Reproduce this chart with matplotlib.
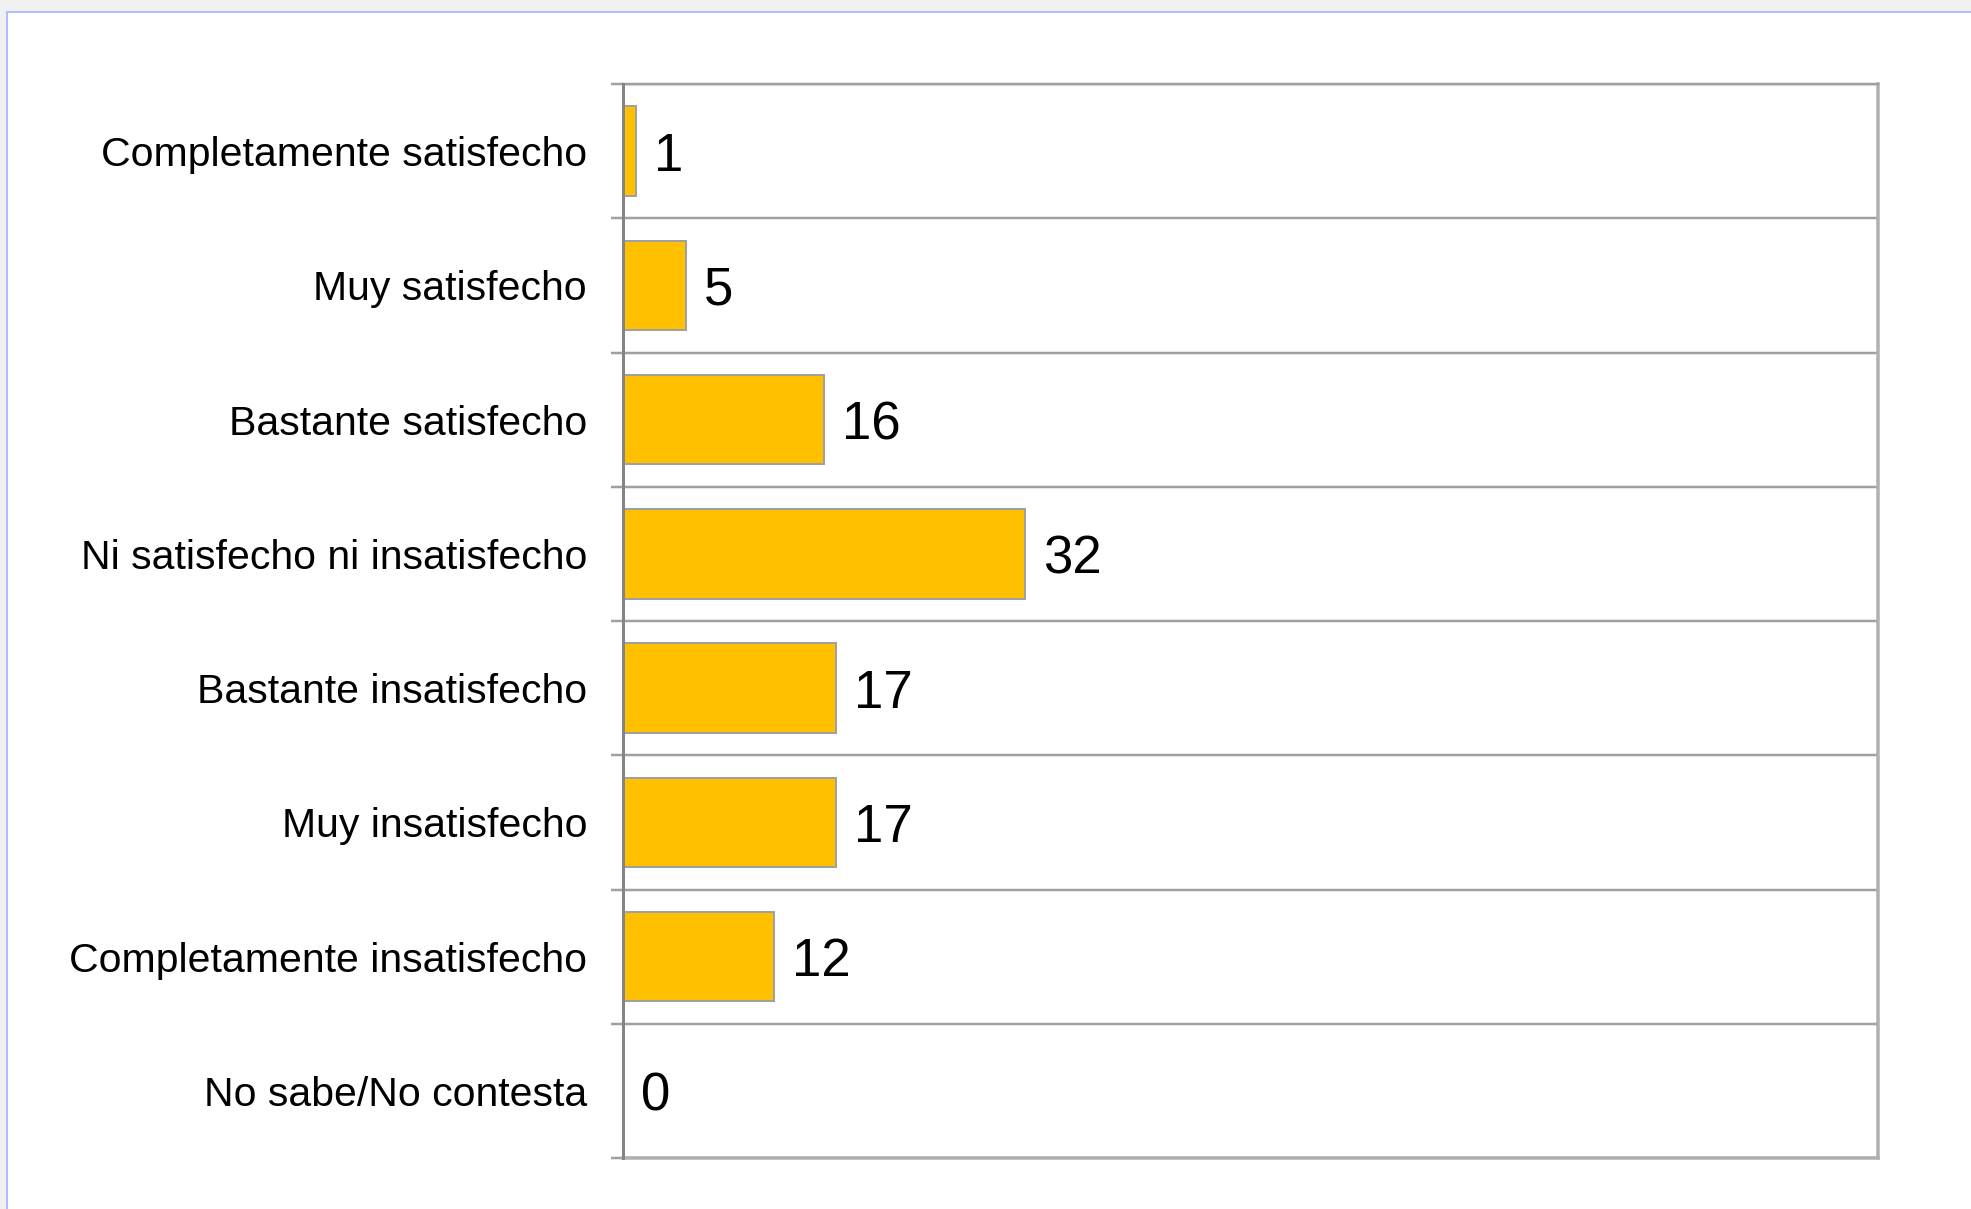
import matplotlib
matplotlib.use("Agg")
import matplotlib.pyplot as plt
from matplotlib.patches import Rectangle
from matplotlib.lines import Line2D

categories = ["Completamente satisfecho", "Muy satisfecho", "Bastante satisfecho",
              "Ni satisfecho ni insatisfecho", "Bastante insatisfecho",
              "Muy insatisfecho", "Completamente insatisfecho", "No sabe/No contesta"]
values = [1, 5, 16, 32, 17, 17, 12, 0]

W, H = 1971, 1209
DPI = 100
PX = 72.0 / DPI  # points per pixel

plt.rcParams['font.family'] = ['Liberation Sans', 'DejaVu Sans']

fig = plt.figure(figsize=(W / DPI, H / DPI), dpi=DPI, facecolor='white')

# window chrome: gray strips with light blue border
fig.add_artist(Rectangle((0, 1 - 11 / H), 1, 11 / H, transform=fig.transFigure,
                         facecolor='#f0f0f0', edgecolor='none', zorder=0))
fig.add_artist(Rectangle((0, 0), 7 / W, 1, transform=fig.transFigure,
                         facecolor='#f0f0f0', edgecolor='none', zorder=0))
fig.add_artist(Line2D([7 / W, 1], [1 - 12 / H, 1 - 12 / H], transform=fig.transFigure,
                      color='#aabfff', lw=2 * PX))
fig.add_artist(Line2D([7 / W, 7 / W], [0, 1 - 12 / H], transform=fig.transFigure,
                      color='#aabfff', lw=2 * PX))

left, right = 623 / W, 1878 / W
top, bottom = 1 - 84 / H, 1 - 1158 / H
ax = fig.add_axes([left, bottom, right - left, top - bottom])
ax.set_facecolor('white')

y = list(range(len(categories)))
ax.barh(y, values, height=0.665, color='#FFC000', edgecolor='#a0a0a0',
        linewidth=2 * PX, zorder=3)

ax.set_xlim(0, 100)
ax.set_ylim(len(categories) - 0.5, -0.5)

ax.set_yticks(y)
ax.set_yticklabels(categories, fontsize=29.5, color='black')
ax.tick_params(axis='y', which='major', length=0, pad=36 * PX)
ax.set_yticks([k - 0.5 for k in range(len(categories) + 1)], minor=True)
ax.tick_params(axis='y', which='minor', length=12 * PX, width=2.5 * PX,
               color='#a0a0a0', direction='out')
ax.grid(axis='y', which='minor', color='#a0a0a0', linewidth=2.5 * PX, zorder=1)
ax.set_xticks([])

for s in ['top']:
    ax.spines[s].set_color('#a0a0a0')
    ax.spines[s].set_linewidth(2.5 * PX)
for s in ['right', 'bottom']:
    ax.spines[s].set_color('#b0b0b0')
    ax.spines[s].set_linewidth(3.5 * PX)
ax.spines['left'].set_color('#858585')
ax.spines['left'].set_linewidth(3 * PX)
ax.spines['left'].set_zorder(5)

for yi, v in zip(y, values):
    ax.annotate(str(v), xy=(v, yi), xytext=(18 * PX, 0), textcoords='offset points',
                ha='left', va='center_baseline', fontsize=38, color='black', zorder=4)

fig.savefig('out.png', dpi=DPI, facecolor='white')
